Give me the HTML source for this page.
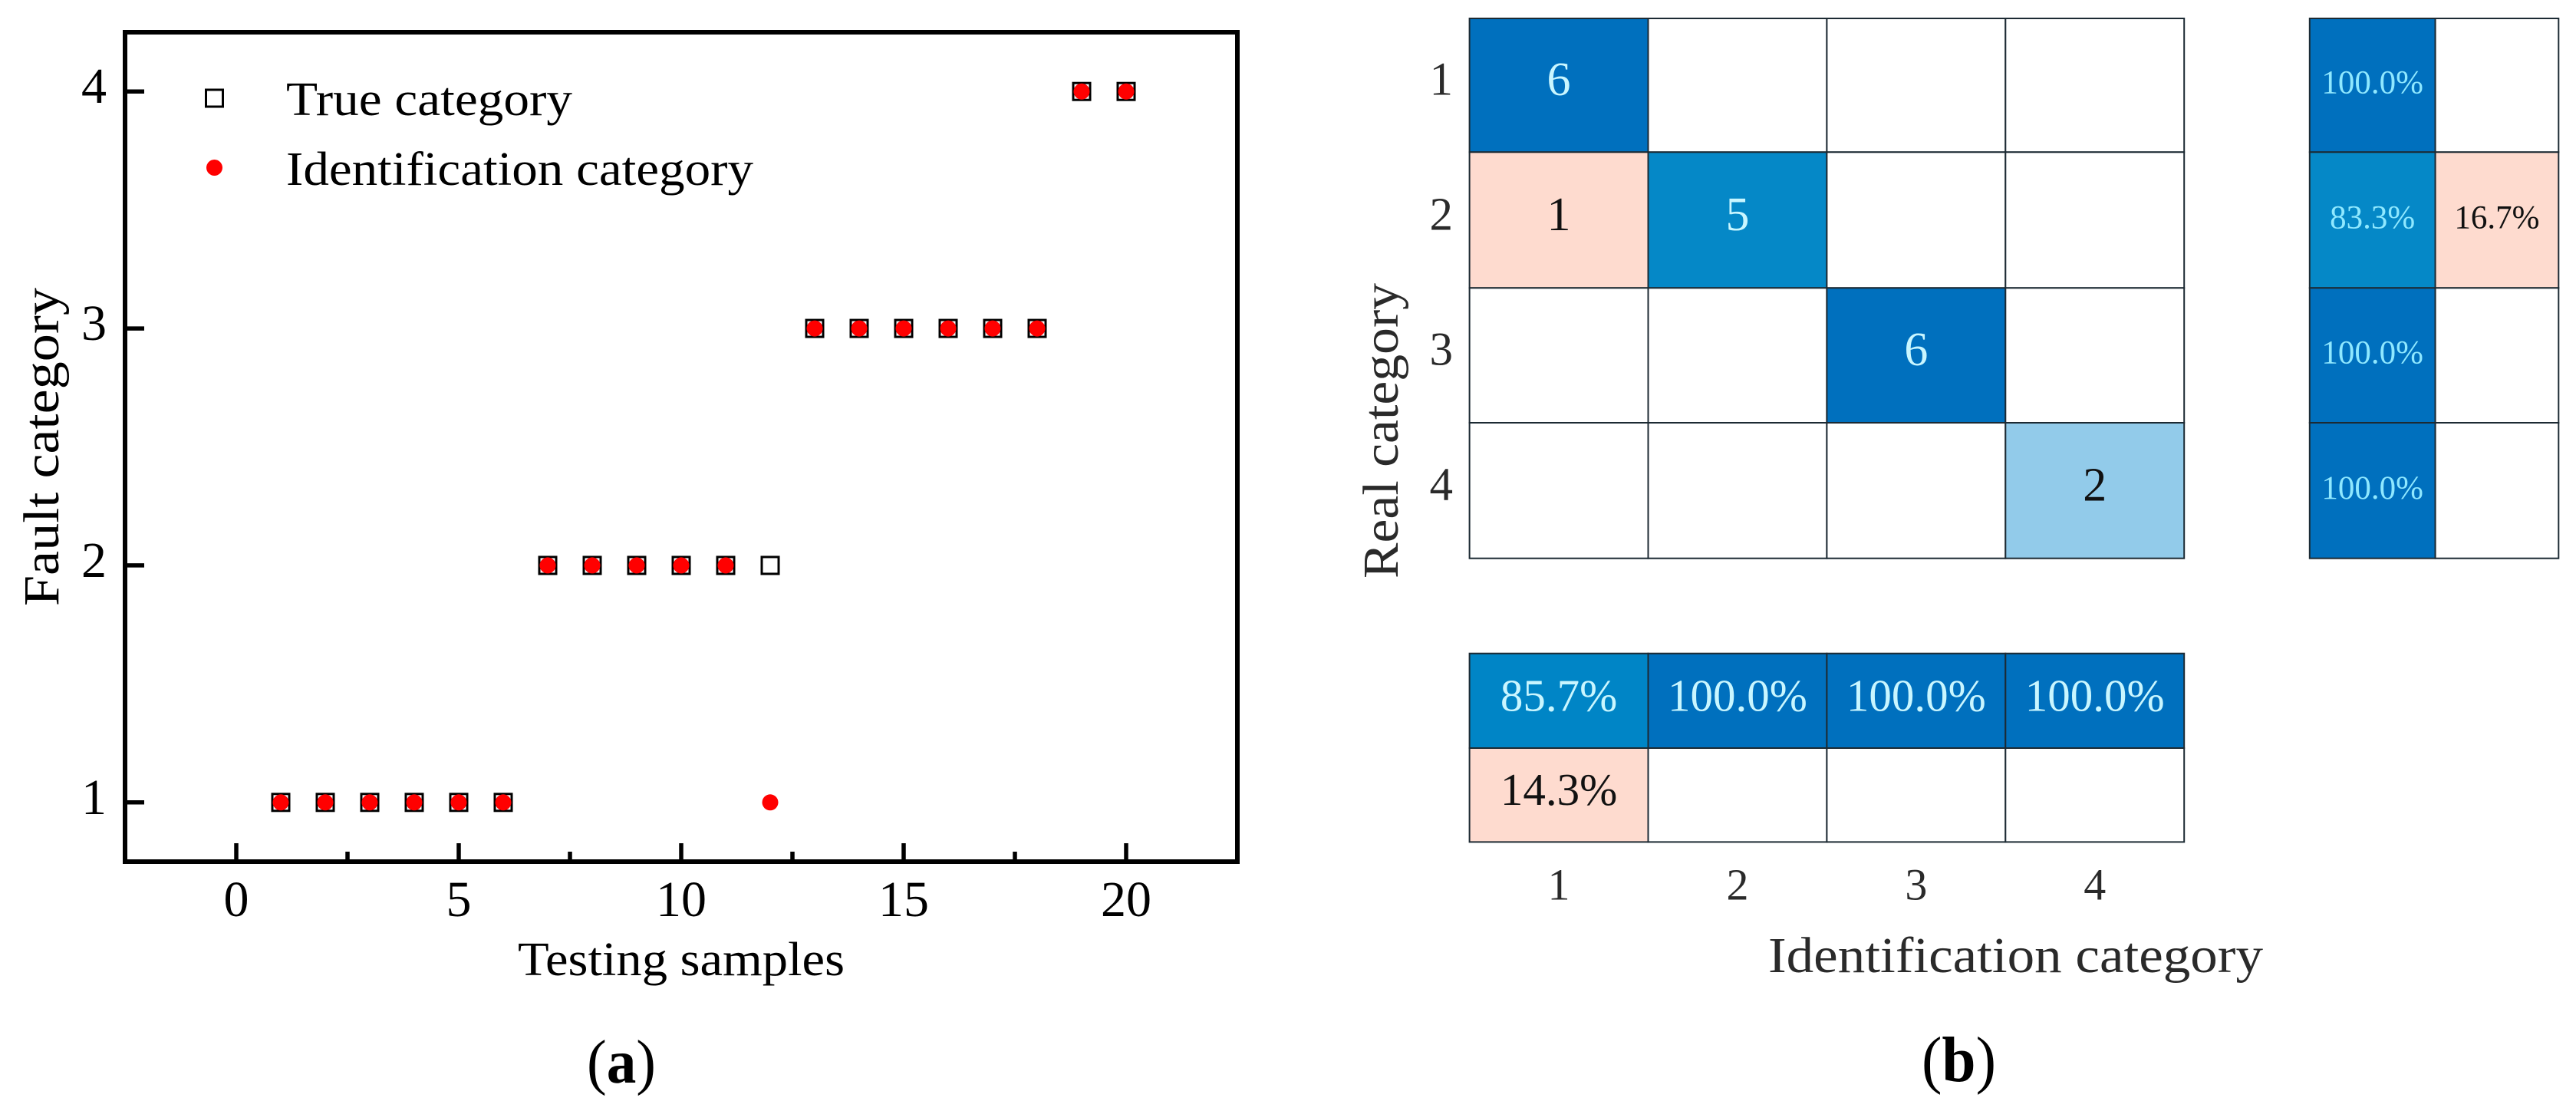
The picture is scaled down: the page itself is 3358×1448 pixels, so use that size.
<!DOCTYPE html>
<html lang="en">
<head>
<meta charset="utf-8">
<title>Fault identification results</title>
<style>
html,body{margin:0;padding:0;background:#fff;width:3358px;height:1448px;overflow:hidden}
svg{display:block}
text{font-family:"Liberation Serif",serif;fill:#000}
</style>
</head>
<body>
<svg id="figure" width="3358" height="1448" viewBox="0 0 3358 1448" xmlns="http://www.w3.org/2000/svg">
  <g id="scatter"></g>
  <text x="373" y="150" font-size="62" textLength="373" lengthAdjust="spacingAndGlyphs">True category</text>
  <text x="373" y="241" font-size="62" textLength="609" lengthAdjust="spacingAndGlyphs">Identification category</text>
  <text x="675" y="1271" font-size="62" textLength="426" lengthAdjust="spacingAndGlyphs">Testing samples</text>
  <text transform="translate(76 790) rotate(-90)" font-size="66" textLength="415" lengthAdjust="spacingAndGlyphs">Fault category</text>
  <text x="765" y="1411" font-size="80" textLength="90" lengthAdjust="spacingAndGlyphs">(<tspan font-weight="bold">a</tspan>)</text>

  <g id="heatmaps"></g>
  <text x="2305" y="1267" font-size="66" textLength="645" lengthAdjust="spacingAndGlyphs" style="fill:#2a2a2a">Identification category</text>
  <text transform="translate(1822 754) rotate(-90)" font-size="66" textLength="385" lengthAdjust="spacingAndGlyphs" style="fill:#2a2a2a">Real category</text>
  <text x="2505" y="1409" font-size="84" textLength="97" lengthAdjust="spacingAndGlyphs">(<tspan font-weight="bold">b</tspan>)</text>
</svg>
<script>
// ---------- Panel (a) data ----------
const sampleIds = [1,2,3,4,5,6,7,8,9,10,11,12,13,14,15,16,17,18,19,20];
const trueCategory = [1,1,1,1,1,1,2,2,2,2,2,2,3,3,3,3,3,3,4,4];
const identifiedCategory = [1,1,1,1,1,1,2,2,2,2,2,1,3,3,3,3,3,3,4,4];
const xMajorTicks = [0,5,10,15,20];
const xMinorTicks = [2.5,7.5,12.5,17.5];
const yMajorTicks = [1,2,3,4];
const legendKeys = ['True category','Identification category'];

// ---------- Panel (b) data ----------
const categoryLabels = ['1','2','3','4'];
const confusionCounts = [
  [6,0,0,0],
  [1,5,0,0],
  [0,0,6,0],
  [0,0,0,2]
];
const rowPercent = [
  [100.0,0],
  [83.3,16.7],
  [100.0,0],
  [100.0,0]
];
const columnPercent = [
  [85.7,100.0,100.0,100.0],
  [14.3,0,0,0]
];

const NS = 'http://www.w3.org/2000/svg';
function make(tag, parent, attrs, txt) {
  const el = document.createElementNS(NS, tag);
  for (const k in attrs) el.setAttribute(k, attrs[k]);
  if (txt !== undefined) el.textContent = txt;
  parent.appendChild(el);
  return el;
}

// ---------- Panel (a) ----------
const scatter = document.getElementById('scatter');
const plotL = 163, plotR = 1613, plotT = 42, plotB = 1123;
const xMin = -2.5, xMax = 22.5, yMin = 0.75, yMax = 4.25;
const xScale = v => plotL + (v - xMin) / (xMax - xMin) * (plotR - plotL);
const yScale = v => plotB - (v - yMin) / (yMax - yMin) * (plotB - plotT);

xMajorTicks.forEach(v => {
  const t = make('line', scatter, {x1:xScale(v), x2:xScale(v), y1:plotB, y2:plotB-24, stroke:'#000', 'stroke-width':5.5});
  
  
  const l = make('text', scatter, {x:xScale(v), y:1194, 'font-size':66, 'text-anchor':'middle'}, String(v));
  
  
});
xMinorTicks.forEach(v => {
  const t = make('line', scatter, {x1:xScale(v), x2:xScale(v), y1:plotB, y2:plotB-13, stroke:'#000', 'stroke-width':5.5});
  
  
});
yMajorTicks.forEach(v => {
  const t = make('line', scatter, {x1:plotL, x2:plotL+25, y1:yScale(v), y2:yScale(v), stroke:'#000', 'stroke-width':5.5});
  
  
  const l = make('text', scatter, {x:139, y:yScale(v)+15, 'font-size':66, 'text-anchor':'end'}, String(v));
  
  
});

const frame = make('rect', scatter, {x:plotL, y:plotT, width:plotR-plotL, height:plotB-plotT, fill:'none', stroke:'#000', 'stroke-width':6});



sampleIds.forEach((s, i) => {
  const sq = make('rect', scatter, {x:xScale(s)-11, y:yScale(trueCategory[i])-11, width:22, height:22, fill:'#fff', stroke:'#000', 'stroke-width':3});
  
  
});
sampleIds.forEach((s, i) => {
  const c = make('circle', scatter, {cx:xScale(s), cy:yScale(identifiedCategory[i]), r:10.5, fill:'#f00'});
  
  
});

const legendSquare = make('rect', scatter, {x:268.5, y:117, width:22, height:22, fill:'#fff', stroke:'#000', 'stroke-width':3});


const legendDot = make('circle', scatter, {cx:279.5, cy:218.5, r:10.5, fill:'#f00'});



// ---------- Panel (b) ----------
const heat = document.getElementById('heatmaps');
const gridL = 1915.6, cellW = 232.9;
const rowEdges = [24, 198.3, 375.3, 551, 727.7];
const sideEdges = [3010.8, 3174.6, 3335.3];
const bottomEdges = [851.7, 975, 1097.4];
const colX = i => gridL + i * cellW;
const rowY = i => rowEdges[i];
const rowH = i => rowEdges[i+1] - rowEdges[i];
const lineCol = '#1c2a33';

function lerp(a, b, t) { return a + (b - a) * t; }
function mix(c1, c2, t) {
  return 'rgb(' + c1.map((v, i) => Math.round(lerp(v, c2[i], t))).join(',') + ')';
}
const blueFull = [0,112,190], blueMid = [0,134,198], blueLight = [146,203,234];
function blueFor(f) {
  if (f >= 0.85) return mix(blueMid, blueFull, Math.min(1, (f - 0.85) / 0.15));
  return mix(blueLight, blueMid, Math.max(0, (f - 0.333) / (0.85 - 0.333)));
}
const pink = '#fedbcf';
function countFill(v, r, c) {
  if (v === 0) return '#fff';
  return r === c ? blueFor(v / 6) : pink;
}
function pctFill(v) {
  if (v === 0) return '#fff';
  return v >= 50 ? blueFor(v / 100) : pink;
}
const textOn = (v, dark) => dark ? '#c9f6ff' : '#111';
const pctText = v => v.toFixed(1) + '%';

confusionCounts.forEach((row, r) => {
  row.forEach((v, c) => {
    const rc = make('rect', heat, {x:colX(c), y:rowY(r), width:cellW, height:rowH(r), fill:countFill(v, r, c), stroke:lineCol, 'stroke-width':2});
    
    
  });
});
confusionCounts.forEach((row, r) => {
  row.forEach((v, c) => {
    if (v === 0) return;
    const dark = r === c && v / 6 > 0.5;
    const t = make('text', heat, {x:colX(c)+cellW/2, y:rowY(r)+rowH(r)/2+13, 'font-size':62, 'text-anchor':'middle'}, String(v));
    t.style.fill = textOn(v, dark);
    
    
  });
});

rowPercent.forEach((row, r) => {
  row.forEach((v, c) => {
    const w = sideEdges[c+1] - sideEdges[c];
    const rc = make('rect', heat, {x:sideEdges[c], y:rowY(r), width:w, height:rowH(r), fill:pctFill(v), stroke:lineCol, 'stroke-width':2});
    
    
  });
});
rowPercent.forEach((row, r) => {
  row.forEach((v, c) => {
    if (v === 0) return;
    const w = sideEdges[c+1] - sideEdges[c];
    const t = make('text', heat, {x:sideEdges[c]+w/2, y:rowY(r)+rowH(r)/2+10.5, 'font-size':43, 'text-anchor':'middle'}, pctText(v));
    t.style.fill = v >= 50 ? '#8fe8ff' : '#111';
    
    
  });
});

columnPercent.forEach((row, r) => {
  row.forEach((v, c) => {
    const rc = make('rect', heat, {x:colX(c), y:bottomEdges[r], width:cellW, height:bottomEdges[r+1]-bottomEdges[r], fill:pctFill(v), stroke:lineCol, 'stroke-width':2});
    
    
  });
});
columnPercent.forEach((row, r) => {
  row.forEach((v, c) => {
    if (v === 0) return;
    const t = make('text', heat, {x:colX(c)+cellW/2, y:(bottomEdges[r]+bottomEdges[r+1])/2+13, 'font-size':59, 'text-anchor':'middle'}, pctText(v));
    t.style.fill = textOn(v, v >= 50);
    
    
  });
});

categoryLabels.forEach((lab, i) => {
  const y = make('text', heat, {x:1894, y:rowY(i)+rowH(i)/2+12.5, 'font-size':61, 'text-anchor':'end'}, lab);
  y.style.fill = '#2a2a2a';
  
  
  const x = make('text', heat, {x:colX(i)+cellW/2, y:1172.5, 'font-size':58, 'text-anchor':'middle'}, lab);
  x.style.fill = '#2a2a2a';
  
  
});
</script>
</body>
</html>
